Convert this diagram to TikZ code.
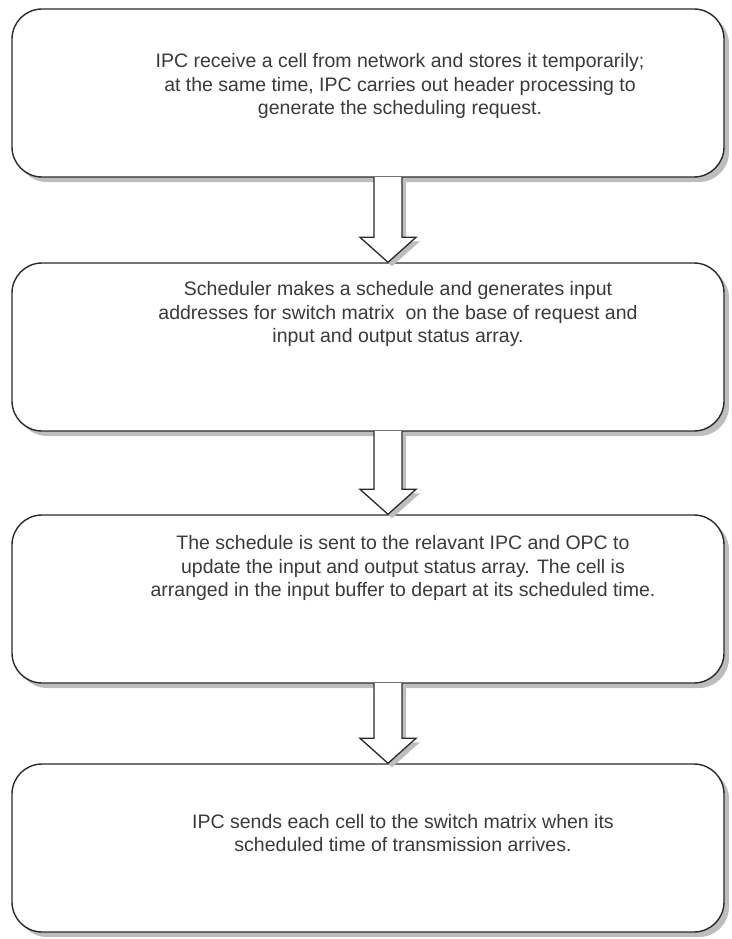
\documentclass[tikz,border=0pt]{standalone}
\usepackage{fontspec}
\setmainfont{Liberation Sans}
\usetikzlibrary{calc,shadows}
\definecolor{edge}{HTML}{2A2A2A}
\definecolor{ink}{HTML}{3A3A3A}
\definecolor{shade}{HTML}{BDBDBD}
\tikzset{
  stepbox/.style={draw=edge, line width=1.4pt, rounded corners=30pt, fill=white,
    minimum width=712pt, minimum height=168pt, inner sep=0pt,
    drop shadow={shadow xshift=5pt, shadow yshift=-5pt, fill=shade, opacity=1}},
  steptext/.style={text=ink, align=center, inner sep=0pt,
    font=\fontsize{19.5}{23.5}\selectfont},
  blockarrow/.style={draw=edge, line width=1.3pt, fill=white, line join=miter,
    drop shadow={shadow xshift=4pt, shadow yshift=-4pt, fill=shade, opacity=1}}
}
\begin{document}
\begin{tikzpicture}[x=1pt,y=1pt]
\path[use as bounding box] (0,0) rectangle (731,-939);

\node[stepbox] (b1) at (368,-93) {};
\node[stepbox] (b2) at (368,-347) {};
\node[stepbox] (b3) at (368,-599) {};
\node[stepbox] (b4) at (368,-848) {};

\node[steptext] (t1) at ($(b1.center)+(32,7)$) {IPC receive a cell from network and stores it temporarily;\\at the same time, IPC carries out header processing to\\generate the scheduling request.};
\node[steptext] (t2) at ($(b2.center)+(30,33)$) {Scheduler makes a schedule and generates input\\addresses for switch matrix\ \ on the base of request and\\input and output status array.};
\node[steptext] (t3) at ($(b3.center)+(35,31)$) {The schedule is sent to the relavant IPC and OPC to\\update the input and output status array. The cell is\\arranged in the input buffer to depart at its scheduled time.};
\node[steptext] (t4) at ($(b4.center)+(35,15)$) {IPC sends each cell to the switch matrix when its\\scheduled time of transmission arrives.};

\foreach \a/\b in {b1/b2, b2/b3, b3/b4}{
  \coordinate (top\a) at ($(\a.south)+(20,0.7)$);
  \coordinate (tip\a) at ($(\b.north)+(20,0)$);
  \draw[blockarrow] ($(top\a)+(-14,0)$) -- ($(tip\a)+(-14,25)$) -- ($(tip\a)+(-28,25)$)
     -- (tip\a) -- ($(tip\a)+(28,25)$) -- ($(tip\a)+(14,25)$) -- ($(top\a)+(14,0)$);
}
\end{tikzpicture}
\end{document}
